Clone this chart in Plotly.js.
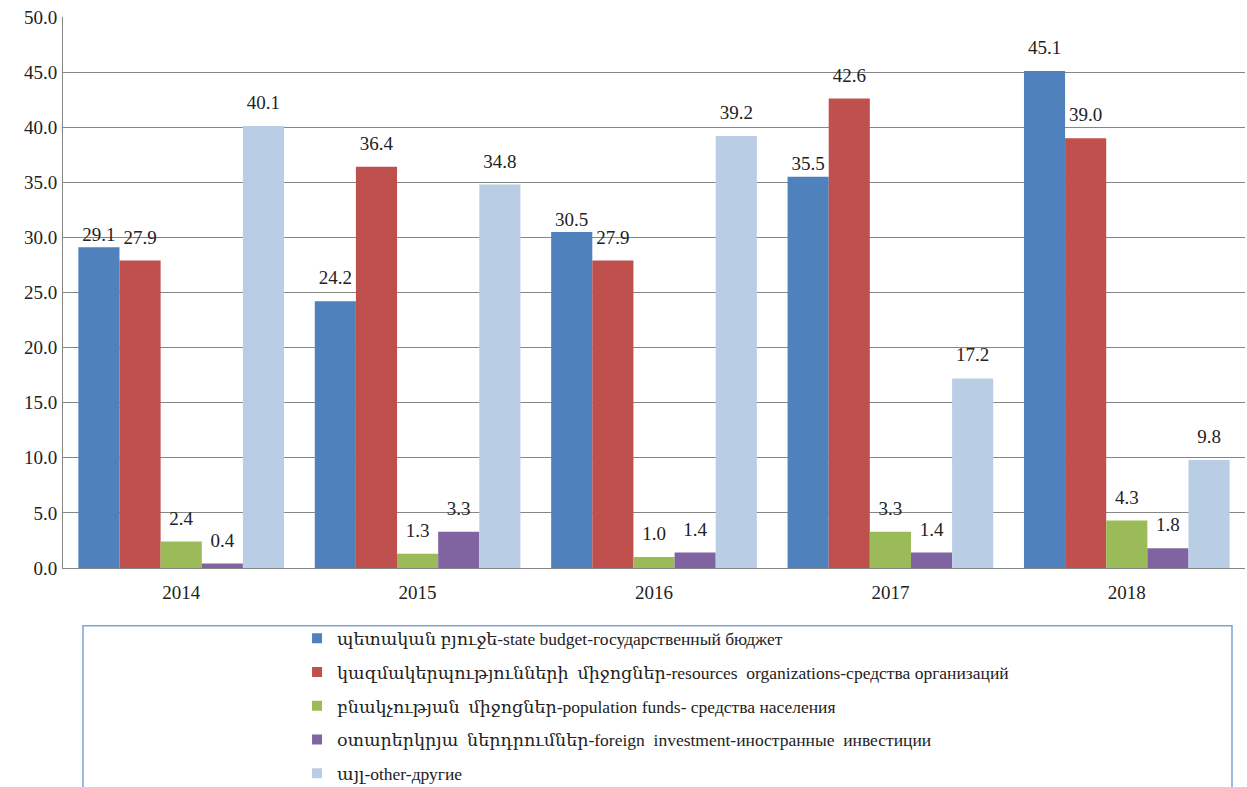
<!DOCTYPE html>
<html><head><meta charset="utf-8">
<script src="https://cdn.plot.ly/plotly-3.0.1.min.js"></script>
<style>html,body{margin:0;padding:0;background:#fff}</style>
</head><body>
<div id="chart" style="width:1247px;height:787px"></div>
<script>
const years = ['2014','2015','2016','2017','2018'];
const stateBudget = [29.1, 24.2, 30.5, 35.5, 45.1];
const organizations = [27.9, 36.4, 27.9, 42.6, 39.0];
const population = [2.4, 1.3, 1.0, 3.3, 4.3];
const foreign = [0.4, 3.3, 1.4, 1.4, 1.8];
const other = [40.1, 34.8, 39.2, 17.2, 9.8];
const seriesNames = [
  'պետական բյուջե-state budget-государственный бюджет',
  'կազմակերպությունների  միջոցներ-resources  organizations-средства организаций',
  'բնակչության  միջոցներ-population funds- средства населения',
  'օտարերկրյա  ներդրումներ-foreign  investment-иностранные  инвестиции',
  'այլ-other-другие'
];
const colors = ['#4F81BD','#C0504D','#9BBB59','#8064A2','#B9CDE5'];
const allData = [stateBudget, organizations, population, foreign, other];
const FONT = 'Liberation Serif, DejaVu Serif, serif';
// labels drawn closer to their bar (series index -> year indices), as in the original
const tightLabels = {0: [0, 2, 3]};

const bars = allData.map((vals, i) => ({
  type: 'bar', x: years, y: vals, name: seriesNames[i],
  offsetgroup: 's' + i, showlegend: false,
  marker: {color: colors[i]},
  hoverinfo: 'x+y+name'
}));
const labels = allData.map((vals, i) => ({
  type: 'scatter', mode: 'markers+text', x: years, y: vals,
  offsetgroup: 's' + i, showlegend: false,
  marker: {
    size: vals.map((v, j) => (tightLabels[i] || []).includes(j) ? 1 : 18),
    opacity: 0, color: colors[i]
  },
  text: vals.map(v => v.toFixed(1)),
  textposition: 'top center',
  textfont: {family: FONT, size: 19, color: '#222'},
  cliponaxis: false, hoverinfo: 'skip'
}));
const legendItems = allData.map((vals, i) => ({
  type: 'scatter', mode: 'markers', x: [null], y: [null],
  name: seriesNames[i], legendgroup: 'g' + i, showlegend: true,
  marker: {symbol: 'square', size: 10, color: colors[i]}
}));

const layout = {
  width: 1247, height: 787,
  margin: {l: 63, r: 2, t: 17, b: 219, autoexpand: false},
  paper_bgcolor: '#fff', plot_bgcolor: '#fff',
  barmode: 'group', bargap: 0.13, bargroupgap: 0,
  scattermode: 'group', scattergap: 0.13,
  font: {family: FONT, color: '#222'},
  xaxis: {
    type: 'category', showgrid: false, showline: true, linecolor: '#868686',
    ticks: '', ticklabelstandoff: 7, automargin: false,
    tickfont: {family: FONT, size: 19, color: '#222'}
  },
  yaxis: {
    range: [0, 50], dtick: 5, tickformat: '.1f',
    showgrid: true, gridcolor: '#868686', gridwidth: 1,
    showline: true, linecolor: '#868686', zeroline: false,
    ticks: '', ticklabelstandoff: 1, automargin: false,
    tickfont: {family: FONT, size: 19, color: '#222'}
  },
  showlegend: true,
  legend: {
    x: 0.198, y: -0.095, xanchor: 'left', yanchor: 'top',
    orientation: 'v', traceorder: 'grouped', tracegroupgap: 8,
    font: {family: FONT, size: 17.5, color: '#222'},
    itemwidth: 30, bgcolor: 'rgba(0,0,0,0)'
  },
  shapes: [{
    type: 'rect', xref: 'paper', yref: 'paper',
    x0: 0.0169, x1: 0.989, y0: -0.105, y1: -0.5,
    line: {color: '#7FA3D4', width: 1.5}
  }]
};

Plotly.newPlot('chart', [...bars, ...labels, ...legendItems], layout, {displayModeBar: false, staticPlot: true});
</script>
</body></html>
